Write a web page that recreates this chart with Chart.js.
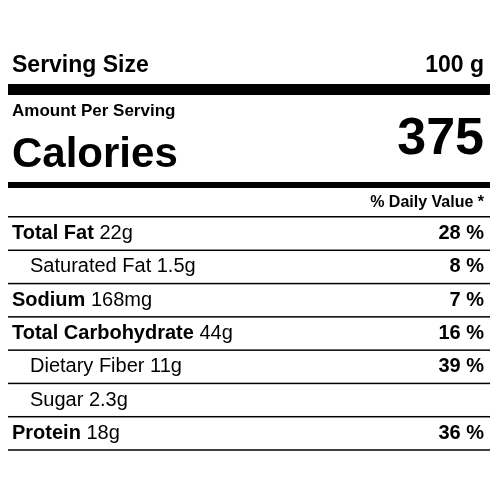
<!DOCTYPE html>
<html>
<head>
<meta charset="utf-8">
<script src="https://cdn.jsdelivr.net/npm/chart.js@4"></script>
<style>
  html, body { margin: 0; padding: 0; background: #fff; }
  #wrap { width: 500px; height: 500px; }
</style>
</head>
<body>
<div id="wrap"><canvas id="myChart"></canvas></div>
<script>
const servingSize = "100 g";
const calories = "375";
const nutrients = ["Total Fat", "Saturated Fat", "Sodium", "Total Carbohydrate", "Dietary Fiber", "Sugar", "Protein"];
const amounts = ["22g", "1.5g", "168mg", "44g", "11g", "2.3g", "18g"];
const dailyValues = [28, 8, 7, 16, 39, null, 36];
const subRows = [false, true, false, false, true, true, false];

const FONT = "'Liberation Sans', Arial, sans-serif";

const labelPlugin = {
  id: "label",
  afterDraw(chart) {
    const ctx = chart.ctx;
    const y = chart.scales.y;
    const left = 12, right = 484;
    ctx.save();
    ctx.fillStyle = "#000";
    ctx.textBaseline = "middle";

    ctx.font = "bold 23px " + FONT;
    ctx.textAlign = "left";
    ctx.fillText("Serving Size", left, 66);
    ctx.textAlign = "right";
    ctx.fillText(servingSize, right, 66);
    ctx.fillRect(8, 84, 482, 11);

    ctx.textAlign = "left";
    ctx.font = "bold 17px " + FONT;
    ctx.fillText("Amount Per Serving", left, 111);
    ctx.font = "bold 42px " + FONT;
    ctx.fillText("Calories", left, 155);
    ctx.textAlign = "right";
    ctx.font = "bold 52px " + FONT;
    ctx.fillText(calories, right, 140);
    ctx.fillRect(8, 182, 482, 6);

    ctx.font = "bold 16px " + FONT;
    ctx.fillText("% Daily Value *", right, 203);
    ctx.fillRect(8, 216, 482, 1.5);

    const band = (y.getPixelForValue(1) - y.getPixelForValue(0));
    nutrients.forEach((name, i) => {
      const cy = y.getPixelForValue(i);
      let x = subRows[i] ? 30 : left;
      ctx.textAlign = "left";
      ctx.font = (subRows[i] ? "" : "bold ") + "20px " + FONT;
      ctx.fillText(name, x, cy);
      x += ctx.measureText(name + " ").width;
      ctx.font = "20px " + FONT;
      ctx.fillText(amounts[i], x, cy);
      if (dailyValues[i] !== null) {
        ctx.textAlign = "right";
        ctx.font = "bold 20px " + FONT;
        ctx.fillText(dailyValues[i] + " %", right, cy);
      }
      ctx.fillRect(8, cy + band / 2 - 0.75, 482, 1.5);
    });
    ctx.restore();
  }
};

new Chart(document.getElementById("myChart"), {
  type: "bar",
  data: {
    labels: nutrients,
    datasets: [{ data: dailyValues.map(() => 0), backgroundColor: "transparent" }]
  },
  options: {
    responsive: true,
    maintainAspectRatio: false,
    animation: false,
    indexAxis: "y",
    layout: { padding: { top: 217, bottom: 50, left: 8, right: 10 } },
    plugins: { legend: { display: false }, tooltip: { enabled: false } },
    scales: {
      x: { display: false, min: 0, max: 100 },
      y: { display: false }
    }
  },
  plugins: [labelPlugin]
});
</script>
</body>
</html>
